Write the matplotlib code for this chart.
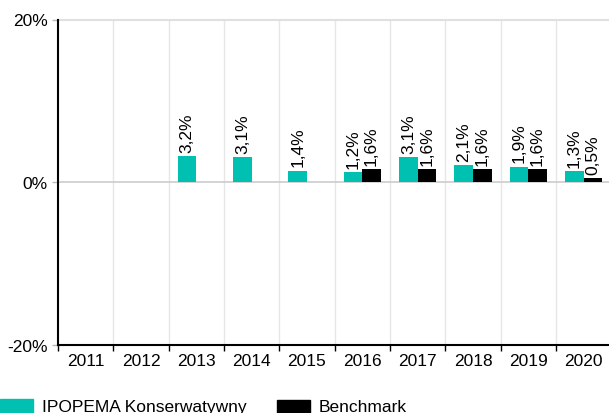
import matplotlib
matplotlib.use("Agg")
import matplotlib.pyplot as plt
import numpy as np
from matplotlib.patches import Rectangle

plt.rcParams['font.family'] = ['Liberation Sans', 'DejaVu Sans']

years = ['2011', '2012', '2013', '2014', '2015', '2016', '2017', '2018', '2019', '2020']
fund = [None, None, 3.2, 3.1, 1.4, 1.2, 3.1, 2.1, 1.9, 1.3]
bench = [None, None, None, None, None, 1.6, 1.6, 1.6, 1.6, 0.5]
fund_name = 'IPOPEMA Konserwatywny'
bench_name = 'Benchmark'
teal = '#00C1B1'

fig = plt.figure(figsize=(6.09, 4.14), dpi=100)
W, H = 609, 414
cw = 55.33
ax = fig.add_axes([58 / W, 1 - 345.5 / H, 10 * cw / W, 325 / H])

x = np.arange(len(years))
bw = 0.335
fs = 12.5
for i, (f, b) in enumerate(zip(fund, bench)):
    if f is not None:
        xf = i - bw / 2
        ax.bar(xf, f, width=bw, color=teal, zorder=3)
        ax.annotate(f"{f:.1f}%".replace('.', ','), (xf, f), xytext=(0, 3),
                    textcoords='offset points', rotation=90,
                    ha='center', va='bottom', fontsize=fs, zorder=4)
    if b is not None:
        xb = i + bw / 2
        ax.bar(xb, b, width=bw, color='black', zorder=3)
        ax.annotate(f"{b:.1f}%".replace('.', ','), (xb, b), xytext=(0, 3),
                    textcoords='offset points', rotation=90,
                    ha='center', va='bottom', fontsize=fs, zorder=4)

ax.set_xlim(-0.5, len(years) - 0.5)
ax.set_ylim(-20, 20)
ax.set_yticks([-20, 0, 20])
ax.set_yticklabels(['-20%', '0%', '20%'], fontsize=fs)
ax.set_xticks(x)
ax.set_xticklabels(years, fontsize=fs)
ax.tick_params(axis='x', length=0, pad=6)
ax.tick_params(axis='y', length=4.5, width=1, color='#bbbbbb', pad=3)
ax.set_xticks(np.arange(-0.5, len(years), 1.0), minor=True)
ax.tick_params(axis='x', which='minor', length=4, color='black', width=1)

for b in np.arange(0.5, len(years) - 0.5, 1.0):
    ax.axvline(b, color='#e6e6e6', lw=1, zorder=1)
ax.axhline(20, color='#e0e0e0', lw=1.5, zorder=1, clip_on=False)
ax.axhline(0, color='#cccccc', lw=1.2, zorder=2)

for s in ['top', 'right']:
    ax.spines[s].set_visible(False)
ax.spines['left'].set_color('black')
ax.spines['left'].set_linewidth(1.5)
ax.spines['bottom'].set_color('black')
ax.spines['bottom'].set_linewidth(1.5)

# legend
fig.patches.append(Rectangle((0, 0), 33 / W, 14 / H, transform=fig.transFigure,
                             color=teal, figure=fig))
fig.text(42 / W, 2 / H, fund_name, fontsize=fs, va='baseline', ha='left')
fig.patches.append(Rectangle((277 / W, 0), 33 / W, 13 / H, transform=fig.transFigure,
                             color='black', figure=fig))
fig.text(319 / W, 2 / H, bench_name, fontsize=fs, va='baseline', ha='left')

fig.savefig('out.png', dpi=100)
